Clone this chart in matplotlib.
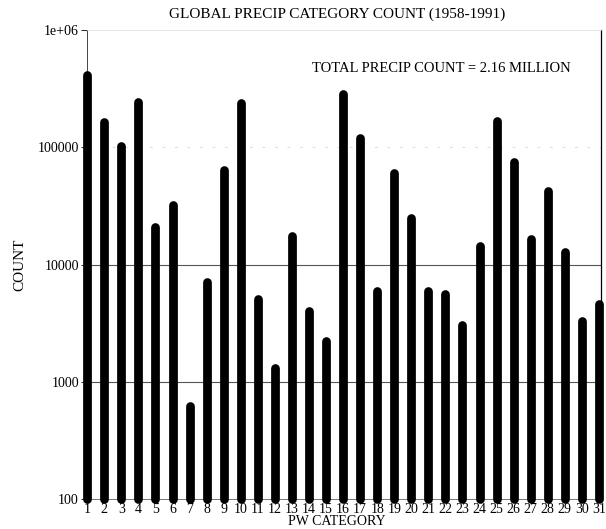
import numpy as np
import matplotlib.pyplot as plt

# categorias de tempo presente (PW) e contagens globais de precipitação
categorias = np.arange(1, 32)
contagens = [412000, 164000, 102000, 244000, 20900, 32400, 623, 7110,
             64400, 240000, 5120, 1320, 17500, 4000, 2240, 286000,
             120000, 5910, 60500, 25000, 5980, 5650, 3080, 14400,
             168000, 75100, 16600, 42200, 12700, 3300, 4590]

ticks_y = [100, 1000, 10000, 100000, 1000000]
rotulos_y = ['100', '1000', '10000', '100000', '1e+06']

titulo = 'GLOBAL PRECIP CATEGORY COUNT (1958-1991)'
anotacao = 'TOTAL PRECIP COUNT = 2.16 MILLION'

plt.rcParams['font.family'] = ['Liberation Serif', 'DejaVu Serif']

fig = plt.figure(figsize=(6.06, 5.29), dpi=100)
ax = fig.add_axes([0.144, 0.0561, 0.848, 0.8872])

ax.set_yscale('log')
ax.set_ylim(100, 1e6)
ax.set_xlim(1, 31.13)

# linhas de grade horizontais
for v in [1000, 10000]:
    ax.axhline(v, color='#555555', lw=0.8, zorder=1)
ax.axhline(100000, color='#cccccc', lw=0.5, ls=(0, (4, 14)), zorder=1)

# barras como linhas grossas com pontas arredondadas
ax.vlines(categorias, 100, contagens, colors='black', linewidth=6.3,
          capstyle='round', clip_on=False, zorder=3)

ax.set_yticks(ticks_y)
ax.set_yticklabels(rotulos_y)
ax.yaxis.set_minor_locator(plt.NullLocator())
ax.set_xticks(categorias)
ax.set_xticklabels([str(c) for c in categorias])
ax.tick_params(axis='y', length=4, width=0.6, labelsize=10, pad=2)
ax.tick_params(axis='x', length=0, labelsize=10, pad=3)

ax.spines['top'].set_color('#dddddd')
ax.spines['top'].set_linewidth(0.5)
ax.spines['left'].set_color('#444444')
ax.spines['left'].set_linewidth(0.7)
ax.spines['bottom'].set_color('#777777')
ax.spines['bottom'].set_linewidth(0.7)
ax.spines['right'].set_linewidth(0.9)

# rótulo do eixo x colado na borda inferior da figura
fig.text(0.556, 0.001, 'PW CATEGORY', ha='center', va='bottom', fontsize=10)
ax.set_ylabel('COUNT', fontsize=11, labelpad=8)
fig.text(0.556, 0.973, titulo, ha='center', va='center', fontsize=11)
ax.text(0.69, 0.918, anotacao, transform=ax.transAxes, ha='center',
        va='center', fontsize=10.5)

fig.savefig('out.png', dpi=100, facecolor='white')
